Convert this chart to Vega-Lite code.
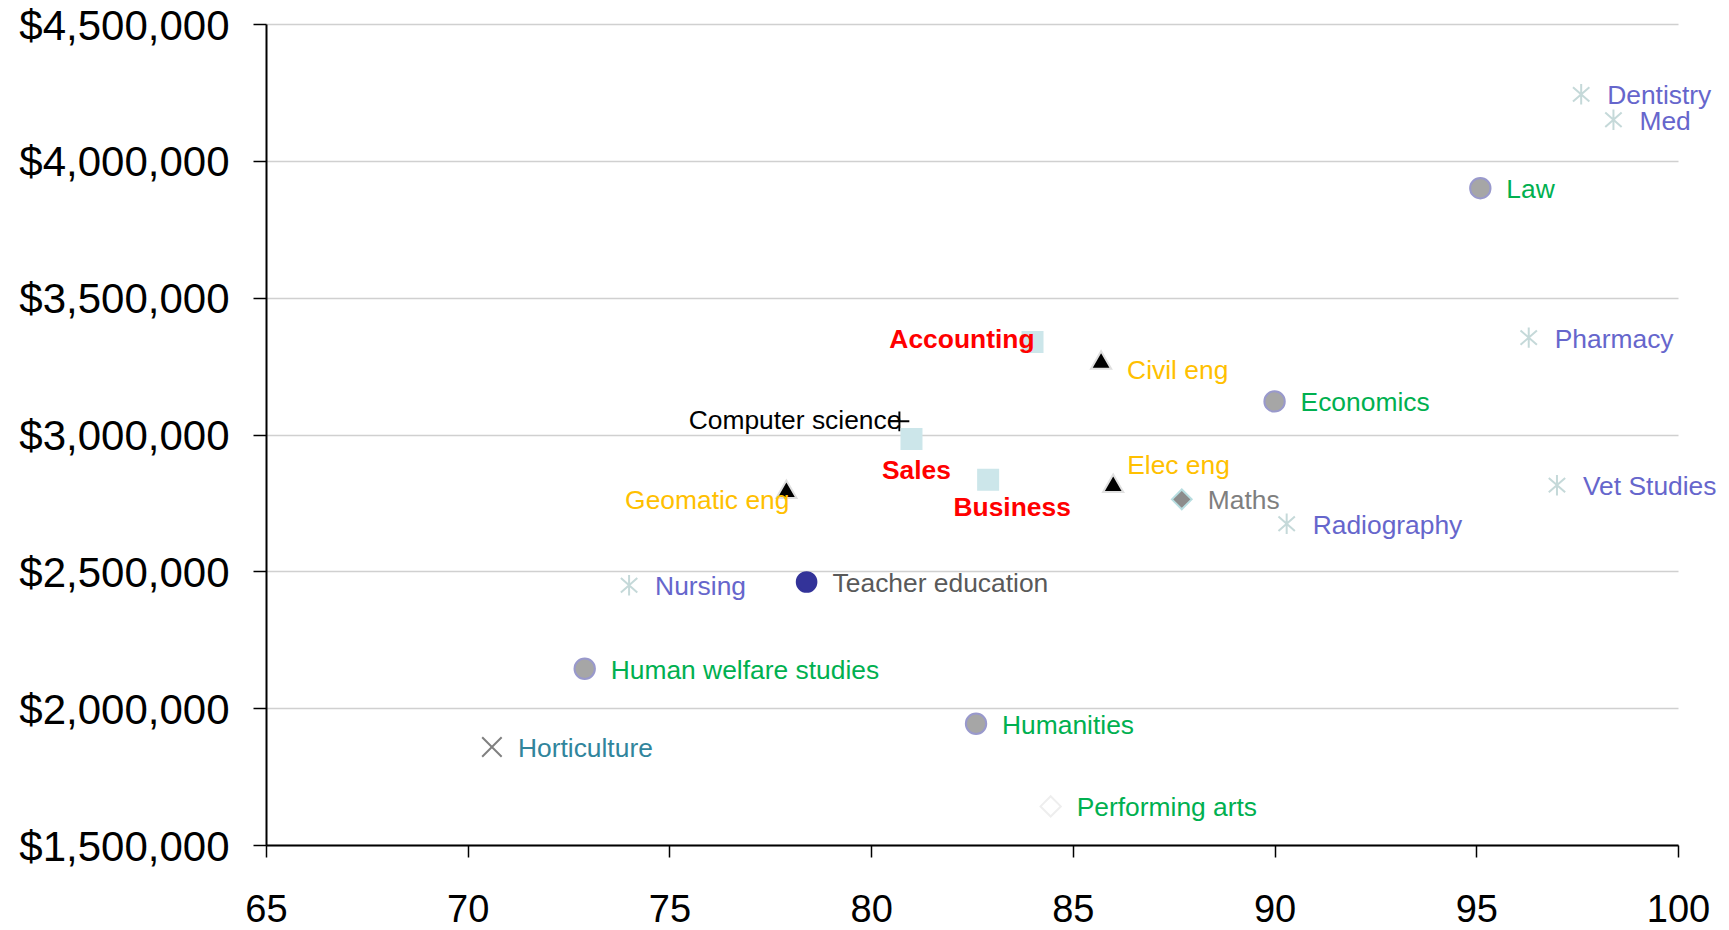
{
  "$schema": "https://vega.github.io/schema/vega-lite/v6.json",
  "width": 1412,
  "height": 821,
  "autosize": "none",
  "padding": {"left": 266, "top": 24, "right": 51, "bottom": 85},
  "background": "white",
  "config": {"view": {"stroke": null}, "font": "Liberation Sans"},
  "data": {
    "values": [
      {"major": "Dentistry", "score": 97.6, "earnings": 4243000, "group": "health", "place": "right"},
      {"major": "Med", "score": 98.4, "earnings": 4150000, "group": "health", "place": "right"},
      {"major": "Law", "score": 95.1, "earnings": 3900000, "group": "social", "place": "right"},
      {"major": "Pharmacy", "score": 96.3, "earnings": 3354000, "group": "health", "place": "right"},
      {"major": "Accounting", "score": 84.0, "earnings": 3338000, "group": "business", "place": "left-bold"},
      {"major": "Civil eng", "score": 85.7, "earnings": 3272000, "group": "engineering", "place": "right-low"},
      {"major": "Economics", "score": 90.0, "earnings": 3121000, "group": "social", "place": "right"},
      {"major": "Computer science", "score": 80.7, "earnings": 3048000, "group": "computing", "place": "left"},
      {"major": "Sales", "score": 81.0, "earnings": 2984000, "group": "business", "place": "below-bold"},
      {"major": "Business", "score": 82.9, "earnings": 2835000, "group": "business", "place": "below-right-bold"},
      {"major": "Elec eng", "score": 86.0, "earnings": 2822000, "group": "engineering", "place": "above-right"},
      {"major": "Geomatic eng", "score": 77.9, "earnings": 2800000, "group": "engineering", "place": "left-low"},
      {"major": "Maths", "score": 87.7, "earnings": 2763000, "group": "maths", "place": "right"},
      {"major": "Vet Studies", "score": 97.0, "earnings": 2815000, "group": "health", "place": "right"},
      {"major": "Radiography", "score": 90.3, "earnings": 2674000, "group": "health", "place": "right"},
      {"major": "Nursing", "score": 74.0, "earnings": 2449000, "group": "health", "place": "right"},
      {"major": "Teacher education", "score": 78.4, "earnings": 2461000, "group": "teaching", "place": "right"},
      {"major": "Human welfare studies", "score": 72.9, "earnings": 2144000, "group": "social", "place": "right"},
      {"major": "Humanities", "score": 82.6, "earnings": 1943000, "group": "social", "place": "right"},
      {"major": "Horticulture", "score": 70.6, "earnings": 1858000, "group": "horticulture", "place": "right"},
      {"major": "Performing arts", "score": 84.45, "earnings": 1641000, "group": "arts", "place": "right"}
    ]
  },
  "encoding": {
    "x": {
      "field": "score", "type": "quantitative",
      "scale": {"domain": [65, 100], "nice": false, "zero": false},
      "axis": {
        "title": null, "values": [65, 70, 75, 80, 85, 90, 95, 100], "grid": false,
        "domainColor": "#000000", "domainWidth": 2, "tickColor": "#000000", "tickWidth": 1.5, "tickSize": 12,
        "labelFontSize": 38, "labelColor": "#000000", "labelPadding": 34, "labelFont": "Liberation Sans", "labelFlush": false
      }
    },
    "y": {
      "field": "earnings", "type": "quantitative",
      "scale": {"domain": [1500000, 4500000], "nice": false, "zero": false},
      "axis": {
        "title": null, "values": [1500000, 2000000, 2500000, 3000000, 3500000, 4000000, 4500000], "format": "$,.0f",
        "grid": true, "gridColor": "#D0D0D0", "gridWidth": 1.5,
        "domainColor": "#000000", "domainWidth": 2, "tickColor": "#000000", "tickWidth": 1.5, "tickSize": 13,
        "labelFontSize": 42, "labelColor": "#000000", "labelPadding": 24, "labelLimit": 500, "labelOffset": 2, "labelFont": "Liberation Sans", "labelFlush": false
      }
    }
  },
  "layer": [
    {
      "mark": {"type": "point", "filled": false, "strokeWidth": 2, "opacity": 1},
      "encoding": {
        "shape": {
          "field": "group", "type": "nominal", "legend": null,
          "scale": {
            "domain": ["health", "social", "arts", "engineering", "business", "computing", "maths", "teaching", "horticulture"],
            "range": ["M0,-1L0,1M-0.8,-0.7L0.8,0.7M-0.8,0.7L0.8,-0.7", "circle", "diamond", "triangle-up", "square", "M-1,0L1,0M0,-1L0,1", "diamond", "circle", "M-1,-1L1,1M-1,1L1,-1"]
          }
        },
        "fill": {
          "field": "group", "type": "nominal", "legend": null,
          "scale": {
            "domain": ["health", "social", "arts", "engineering", "business", "computing", "maths", "teaching", "horticulture"],
            "range": ["transparent", "#A6A6A6", "#FFFFFF", "#000000", "#CCE6EA", "transparent", "#8C8C8C", "#333399", "transparent"]
          }
        },
        "stroke": {
          "field": "group", "type": "nominal", "legend": null,
          "scale": {
            "domain": ["health", "social", "arts", "engineering", "business", "computing", "maths", "teaching", "horticulture"],
            "range": ["#C5D9D9", "#9999CC", "#EEEEEE", "#E0E0E0", "#CCE6EA", "#000000", "#B7DDE0", "#333399", "#808080"]
          }
        },
        "size": {
          "field": "group", "type": "nominal", "legend": null,
          "scale": {
            "domain": ["health", "social", "arts", "engineering", "business", "computing", "maths", "teaching", "horticulture"],
            "range": [420, 380, 360, 260, 340, 230, 330, 380, 400]
          }
        }
      }
    },
    {
      "transform": [{"filter": "datum.place === 'right'"}],
      "mark": {"type": "text", "align": "left", "baseline": "middle", "dx": 26, "dy": 2, "fontSize": 26.4, "font": "Liberation Sans"},
      "encoding": {
        "text": {"field": "major"},
        "color": {
          "field": "group", "type": "nominal", "legend": null,
          "scale": {
            "domain": ["health", "social", "arts", "engineering", "business", "computing", "maths", "teaching", "horticulture"],
            "range": ["#6666CC", "#00B050", "#00B050", "#FFC000", "#FF0000", "#000000", "#7F7F7F", "#595959", "#31859C"]
          }
        }
      }
    },
    {
      "transform": [{"filter": "datum.place === 'right-low'"}],
      "mark": {"type": "text", "align": "left", "baseline": "middle", "dx": 26, "dy": 11, "fontSize": 26.4, "font": "Liberation Sans"},
      "encoding": {"text": {"field": "major"}, "color": {"field": "group", "type": "nominal", "legend": null}}
    },
    {
      "transform": [{"filter": "datum.place === 'above-right'"}],
      "mark": {"type": "text", "align": "left", "baseline": "middle", "dx": 14, "dy": -17, "fontSize": 26.4, "font": "Liberation Sans"},
      "encoding": {"text": {"field": "major"}, "color": {"field": "group", "type": "nominal", "legend": null}}
    },
    {
      "transform": [{"filter": "datum.place === 'left'"}],
      "mark": {"type": "text", "align": "right", "baseline": "middle", "dx": 2, "dy": 0, "fontSize": 26.4, "font": "Liberation Sans"},
      "encoding": {"text": {"field": "major"}, "color": {"field": "group", "type": "nominal", "legend": null}}
    },
    {
      "transform": [{"filter": "datum.place === 'left-low'"}],
      "mark": {"type": "text", "align": "right", "baseline": "middle", "dx": 3, "dy": 12, "fontSize": 26.4, "font": "Liberation Sans"},
      "encoding": {"text": {"field": "major"}, "color": {"field": "group", "type": "nominal", "legend": null}}
    },
    {
      "transform": [{"filter": "datum.place === 'left-bold'"}],
      "mark": {"type": "text", "align": "right", "baseline": "middle", "dx": 2, "dy": -2, "fontSize": 26.4, "fontWeight": "bold", "font": "Liberation Sans"},
      "encoding": {"text": {"field": "major"}, "color": {"field": "group", "type": "nominal", "legend": null}}
    },
    {
      "transform": [{"filter": "datum.place === 'below-bold'"}],
      "mark": {"type": "text", "align": "center", "baseline": "middle", "dx": 5, "dy": 32, "fontSize": 26.4, "fontWeight": "bold", "font": "Liberation Sans"},
      "encoding": {"text": {"field": "major"}, "color": {"field": "group", "type": "nominal", "legend": null}}
    },
    {
      "transform": [{"filter": "datum.place === 'below-right-bold'"}],
      "mark": {"type": "text", "align": "center", "baseline": "middle", "dx": 24, "dy": 28, "fontSize": 26.4, "fontWeight": "bold", "font": "Liberation Sans"},
      "encoding": {"text": {"field": "major"}, "color": {"field": "group", "type": "nominal", "legend": null}}
    }
  ]
}
